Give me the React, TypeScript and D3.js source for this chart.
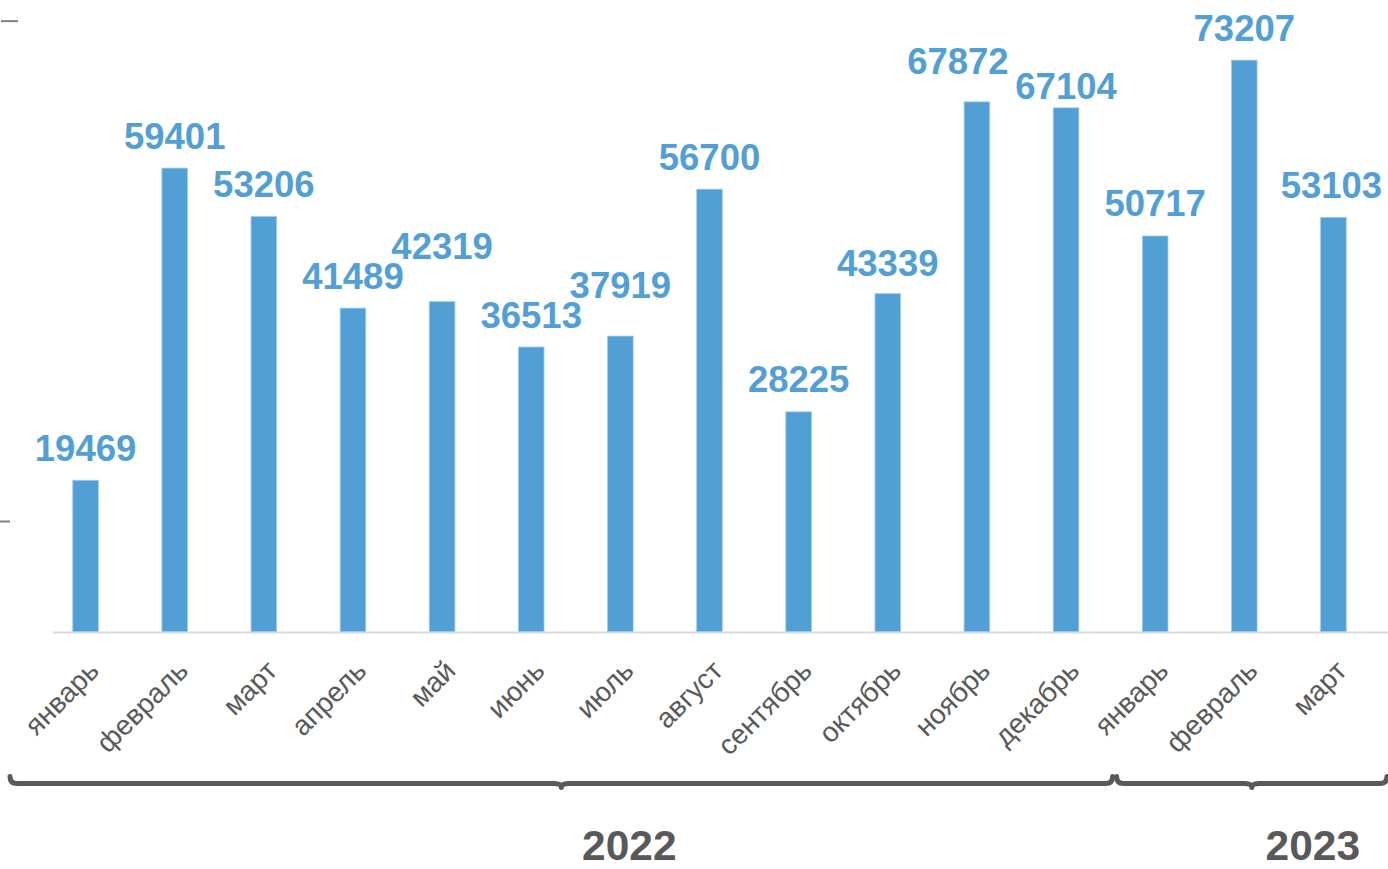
import React from "react";
import * as d3 from "d3";

const months = ["январь", "февраль", "март", "апрель", "май", "июнь", "июль", "август", "сентябрь", "октябрь", "ноябрь", "декабрь", "январь", "февраль", "март"];
const values = [19469, 59401, 53206, 41489, 42319, 36513, 37919, 56700, 28225, 43339, 67872, 67104, 50717, 73207, 53103];
const yearLabels = ["2022", "2023"];
const yearStart = [0, 12];
const yearEnd = [11, 14];
const yTicks = [14200, 78200];

// layout-only: manual nudges of individual value labels (px)
const labelShiftY = [0, 0, 0, 0, -23, 0, -19, 0, 0, 2, -8, 11, 0, 0, 0];
const labelShiftX = [0, 0, 0, 0, 0, 0, 0, 0, 0, 0, -19, 0, 0, 0, -2];

const W = 1388;
const H = 869;
const BASE = 632.5;
const BLUE = "#529fd6";
const GRAY = "#595959";
const FONT = "'Liberation Sans', Arial, sans-serif";

export default function App() {
  const idx = months.map((_, i) => i);
  const x = d3.scaleBand<number>().domain(idx).range([41, 1378]).paddingInner(0.713).paddingOuter(0.3565);
  const y = d3.scaleLinear().domain([0, 80000]).range([BASE, BASE - 80000 * 0.007818]);
  const step = x.step();
  const bw = x.bandwidth();
  const gap = (step - bw) / 2;

  const braceX = [
    [x(yearStart[0])! - gap - 31, x(yearEnd[0])! + bw + gap + 2],
    [x(yearStart[1])! - gap + 6, x(yearEnd[1])! + bw + gap + 9],
  ];
  const braceY = 783.5;

  const bracePath = (a: number, b: number) => {
    const m = (a + b) / 2;
    const r = 7;
    const p = d3.path();
    p.moveTo(a, braceY - r);
    p.quadraticCurveTo(a, braceY, a + r, braceY);
    p.lineTo(m - r, braceY);
    p.quadraticCurveTo(m, braceY, m, braceY + 4);
    p.quadraticCurveTo(m, braceY, m + r, braceY);
    p.lineTo(b - r, braceY);
    p.quadraticCurveTo(b, braceY, b, braceY - r);
    return p.toString();
  };

  return (
    <svg width={W} height={H} style={{ position: "absolute", left: 0, top: 0, display: "block", background: "#fff" }} fontFamily={FONT}>
      {yTicks.map((t, i) => (
        <line key={"yt" + i} x1={i === 0 ? 0 : 1} x2={i === 0 ? 10 : 18} y1={y(t)} y2={y(t)} stroke="#808080" strokeWidth={2} />
      ))}
      <line x1={53} x2={W} y1={BASE} y2={BASE} stroke="#d9d9d9" strokeWidth={2} />
      {values.map((v, i) => (
        <rect key={"b" + i} x={x(i)!} y={y(v)} width={bw} height={BASE - 1 - y(v)} fill={BLUE} stroke="#9ccaec" strokeWidth={0.8} />
      ))}
      {values.map((v, i) => (
        <text key={"v" + i} x={x(i)! + bw / 2 + labelShiftX[i]} y={y(v) - 19.5 + labelShiftY[i]} textAnchor="middle" fontSize={36.5} fontWeight="bold" fill={BLUE}>
          {v}
        </text>
      ))}
      {months.map((m, i) => (
        <text key={"c" + i} transform={`translate(${x(i)! + bw / 2 + 15},${BASE + 40}) rotate(-45)`} textAnchor="end" fontSize={28} fill={GRAY}>
          {m}
        </text>
      ))}
      {braceX.map(([a, b], i) => (
        <path key={"br" + i} d={bracePath(a, b)} fill="none" stroke={GRAY} strokeWidth={5} strokeLinecap="round" strokeLinejoin="round" />
      ))}
      {yearLabels.map((yl, i) => (
        <text key={"y" + i} x={(braceX[i][0] + braceX[i][1]) / 2 + (i === 0 ? 68 : 61)} y={860} textAnchor="middle" fontSize={42.5} fontWeight="bold" fill={GRAY}>
          {yl}
        </text>
      ))}
    </svg>
  );
}
